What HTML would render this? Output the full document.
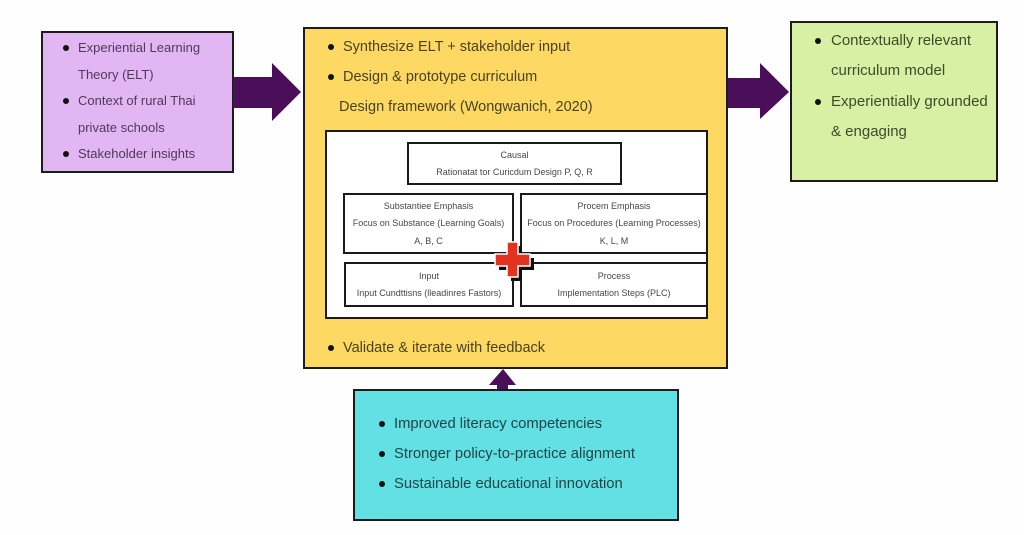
<!DOCTYPE html>
<html>
<head>
<meta charset="utf-8">
<style>
  html, body { margin:0; padding:0; }
  body { width:1024px; height:535px; background:#fefefe; position:relative; overflow:hidden;
         font-family:"Liberation Sans", sans-serif; }
  .box { position:absolute; box-sizing:border-box; border:2px solid #1c1c1c; }
  .t { position:absolute; white-space:nowrap; }
  .dot { position:absolute; width:6px; height:6px; border-radius:50%; background:#111; }
  .in { position:absolute; box-sizing:border-box; border:2px solid #1a1a1a; background:#fff; }
  .it { position:absolute; left:0; right:0; text-align:center; font-size:9px; color:#474747; white-space:nowrap; line-height:12px; }
</style>
</head>
<body>

<!-- Left purple box -->
<div class="box" style="left:41px;top:31px;width:193px;height:142px;background:#e2b5f3;"></div>
<div class="dot" style="left:63px;top:45px;"></div>
<div class="t" style="left:78px;top:40px;font-size:13px;line-height:16px;color:#4d3b58;">Experiential Learning</div>
<div class="t" style="left:78px;top:67px;font-size:13px;line-height:16px;color:#4d3b58;">Theory (ELT)</div>
<div class="dot" style="left:63px;top:98px;"></div>
<div class="t" style="left:78px;top:93px;font-size:13px;line-height:16px;color:#4d3b58;">Context of rural Thai</div>
<div class="t" style="left:78px;top:120px;font-size:13px;line-height:16px;color:#4d3b58;">private schools</div>
<div class="dot" style="left:63px;top:151px;"></div>
<div class="t" style="left:78px;top:146px;font-size:13px;line-height:16px;color:#4d3b58;">Stakeholder insights</div>

<!-- Arrows -->
<svg style="position:absolute;left:0;top:0;" width="1024" height="535">
  <polygon points="233,77 272,77 272,63 301,92 272,121 272,108 233,108" fill="#4b0f5a"/>
  <polygon points="727,78 760,78 760,63 789,92 760,119 760,108 727,108" fill="#4b0f5a"/>
  <polygon points="503,369 516,385 508,385 508,391 497,391 497,385 489,385" fill="#4b0f5a"/>
</svg>

<!-- Yellow central box -->
<div class="box" style="left:303px;top:27px;width:425px;height:342px;background:#fdd862;"></div>
<div class="dot" style="left:328px;top:44px;"></div>
<div class="t" style="left:343px;top:38px;font-size:14.5px;line-height:18px;color:#4a4222;">Synthesize ELT + stakeholder input</div>
<div class="dot" style="left:328px;top:74px;"></div>
<div class="t" style="left:343px;top:68px;font-size:14.5px;line-height:18px;color:#4a4222;">Design &amp; prototype curriculum</div>
<div class="t" style="left:339px;top:98px;font-size:14.5px;line-height:18px;color:#4a4222;">Design framework (Wongwanich, 2020)</div>
<div class="dot" style="left:328px;top:345px;"></div>
<div class="t" style="left:343px;top:339px;font-size:14.5px;line-height:18px;color:#4a4222;">Validate &amp; iterate with feedback</div>

<!-- Inner white framework box -->
<div class="in" style="left:325px;top:130px;width:383px;height:189px;"></div>

<div class="in" style="left:407px;top:142px;width:215px;height:43px;">
  <div class="it" style="top:5px;">Causal</div>
  <div class="it" style="top:22px;">Rationatat tor Curicdum Design P, Q, R</div>
</div>

<div class="in" style="left:343px;top:193px;width:171px;height:61px;">
  <div class="it" style="top:5px;">Substantiee Emphasis</div>
  <div class="it" style="top:22px;">Focus on Substance (Learning Goals)</div>
  <div class="it" style="top:40px;">A, B, C</div>
</div>

<div class="in" style="left:520px;top:193px;width:188px;height:61px;">
  <div class="it" style="top:5px;">Procem Emphasis</div>
  <div class="it" style="top:22px;">Focus on Procedures (Learning Processes)</div>
  <div class="it" style="top:40px;">K, L, M</div>
</div>

<div class="in" style="left:344px;top:262px;width:170px;height:45px;">
  <div class="it" style="top:6px;">Input</div>
  <div class="it" style="top:23px;">Input Cundttisns (lleadinres Fastors)</div>
</div>

<div class="in" style="left:520px;top:262px;width:188px;height:45px;">
  <div class="it" style="top:6px;">Process</div>
  <div class="it" style="top:23px;">Implementation Steps (PLC)</div>
</div>

<!-- Red cross -->
<svg style="position:absolute;left:0;top:0;" width="1024" height="535">
  <g transform="translate(4,4)">
    <path d="M507,242 h11 v12 h12 v12 h-12 v11 h-11 v-11 h-12 v-12 h12 z" fill="#111"/>
  </g>
  <path d="M507,242 h11 v12 h12 v12 h-12 v11 h-11 v-11 h-12 v-12 h12 z" fill="#e23222" stroke="#fff" stroke-width="1.5"/>
</svg>

<!-- Green box -->
<div class="box" style="left:790px;top:21px;width:208px;height:161px;background:#d8f0a3;"></div>
<div class="dot" style="left:815px;top:38px;"></div>
<div class="t" style="left:831px;top:32px;font-size:15px;line-height:18px;color:#3e4a2c;">Contextually relevant</div>
<div class="t" style="left:831px;top:62px;font-size:15px;line-height:18px;color:#3e4a2c;">curriculum model</div>
<div class="dot" style="left:815px;top:99px;"></div>
<div class="t" style="left:831px;top:93px;font-size:15px;line-height:18px;color:#3e4a2c;">Experientially grounded</div>
<div class="t" style="left:831px;top:123px;font-size:15px;line-height:18px;color:#3e4a2c;">&amp; engaging</div>

<!-- Cyan box -->
<div class="box" style="left:353px;top:389px;width:326px;height:132px;background:#62e0e3;"></div>
<div class="dot" style="left:379px;top:421px;"></div>
<div class="t" style="left:394px;top:415px;font-size:14.8px;line-height:18px;color:#1f4547;">Improved literacy competencies</div>
<div class="dot" style="left:379px;top:451px;"></div>
<div class="t" style="left:394px;top:445px;font-size:14.8px;line-height:18px;color:#1f4547;">Stronger policy-to-practice alignment</div>
<div class="dot" style="left:379px;top:481px;"></div>
<div class="t" style="left:394px;top:475px;font-size:14.8px;line-height:18px;color:#1f4547;">Sustainable educational innovation</div>

</body>
</html>
